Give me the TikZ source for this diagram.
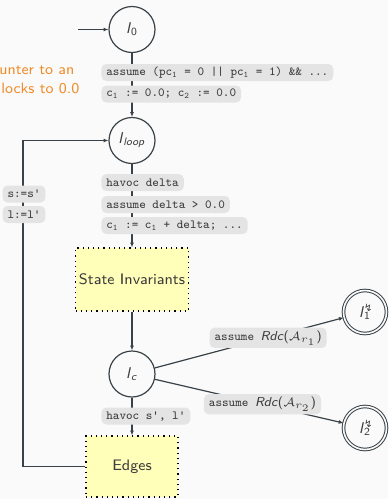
\documentclass[tikz,border=0pt]{standalone}
\usepackage{fontspec}
\newfontfamily\symfont{DejaVu Sans}
\usetikzlibrary{arrows.meta}

\definecolor{bgcol}{RGB}{250,250,250}
\definecolor{linecol}{RGB}{58,66,72}
\definecolor{lblfill}{RGB}{228,228,228}
\definecolor{lbltext}{RGB}{60,60,60}
\definecolor{notecol}{RGB}{240,140,40}
\definecolor{boxfill}{RGB}{255,255,185}

% location names: l with a subscript, error locations carry a lightning mark
\newcommand\locsub[1]{\textit{l}\textsubscript{#1}}
\newcommand\locerr[1]{\textit{l}\rlap{\raisebox{0.3pt}{\textsuperscript{\symfont\fontsize{5}{5}\selectfont ↯}}}\textsubscript{#1}}

\tikzset{
  loc/.style={circle,draw=linecol,line width=0.6pt,minimum size=23pt,inner sep=0pt,
    text=lbltext,font=\sffamily\fontsize{7.8}{9}\selectfont},
  errloc/.style={loc,double=bgcol,double distance=0.8pt,line width=0.5pt,minimum size=21.5pt},
  block/.style={draw=black,dotted,line width=0.6pt,fill=boxfill,inner sep=0pt,
    text=lbltext,font=\sffamily\fontsize{7.6}{9}\selectfont},
  lbl/.style={fill=lblfill,rounded corners=2.5pt,inner xsep=2.5pt,inner ysep=1.4pt,
    minimum height=8.5pt,text=lbltext,font=\ttfamily\fontsize{6.2}{7}\selectfont},
  conn/.style={draw=linecol,line width=0.6pt,-{Latex[length=2.4pt,width=2pt]}},
  note/.style={anchor=base west,text=notecol,inner sep=0pt,font=\sffamily\fontsize{7.5}{9}\selectfont}
}

\begin{document}
\begin{tikzpicture}[x=0.5pt,y=-0.5pt]
  \fill[bgcol] (0,0) rectangle (388,499);
  \useasboundingbox (0,0) rectangle (388,499);

  % side notes
  \node[note] (noteA) at (-1,74) {unter to an};
  \node[note] (noteB) at (1,93) {locks to 0.0};

  % locations and blocks
  \node[loc] (l0) at (132,29.5) {\locsub{0}};
  \coordinate (entry) at (78,29.5);
  \node[loc] (lloop) at (132,140.5) {\locsub{\textit{loop}}};
  \node[block,minimum width=56.5pt,minimum height=31.5pt] (inv) at (132,279.5) {State Invariants};
  \node[loc] (lc) at (132,374) {\locsub{\textit{c}}};
  \node[block,minimum width=46pt,minimum height=30.5pt] (edges) at (132,466.5) {Edges};
  \node[errloc] (err1) at (365,312) {\locerr{1}};
  \node[errloc] (err2) at (365,428) {\locerr{2}};
  \coordinate (back) at (23,466.5);

  % connectors
  \draw[conn] (entry) -- (l0);
  \draw[conn] (l0) -- (lloop);
  \draw[conn] (lloop) -- (inv);
  \draw[conn] (inv) -- (lc);
  \draw[conn] (lc) -- (edges);
  \draw[conn] (edges.west) -- (back) |- (lloop.west);
  \draw[conn] (lc) -- node[lbl,pos=0.6] (r1) {assume \textsf{\fontsize{6.5}{8}\selectfont\textit{Rdc}($\mathcal{A}_{r_1}$)}} (err1);
  \draw[conn] (lc) -- node[lbl,pos=0.57] (r2) {assume \textsf{\fontsize{6.5}{8}\selectfont\textit{Rdc}($\mathcal{A}_{r_2}$)}} (err2);

  % edge labels
  \node[lbl,anchor=west] (init1) at (101,72.5) {assume (pc\textsubscript{1} = 0 || pc\textsubscript{1} = 1) \&\& ...};
  \node[lbl,anchor=west] (init2) at (101,94) {c\textsubscript{1} := 0.0; c\textsubscript{2} := 0.0};
  \node[lbl,anchor=west] (d1) at (101,182.5) {havoc delta};
  \node[lbl,anchor=west] (d2) at (101,204.5) {assume delta > 0.0};
  \node[lbl,anchor=west] (d3) at (101,225.5) {c\textsubscript{1} := c\textsubscript{1} + delta; ...};
  \node[lbl,anchor=west] (hv) at (101,416) {havoc s', l'};
  \node[lbl] (s1) at (24,194) {s:=s'};
  \node[lbl] (s2) at (24,214.5) {l:=l'};
\end{tikzpicture}
\end{document}
